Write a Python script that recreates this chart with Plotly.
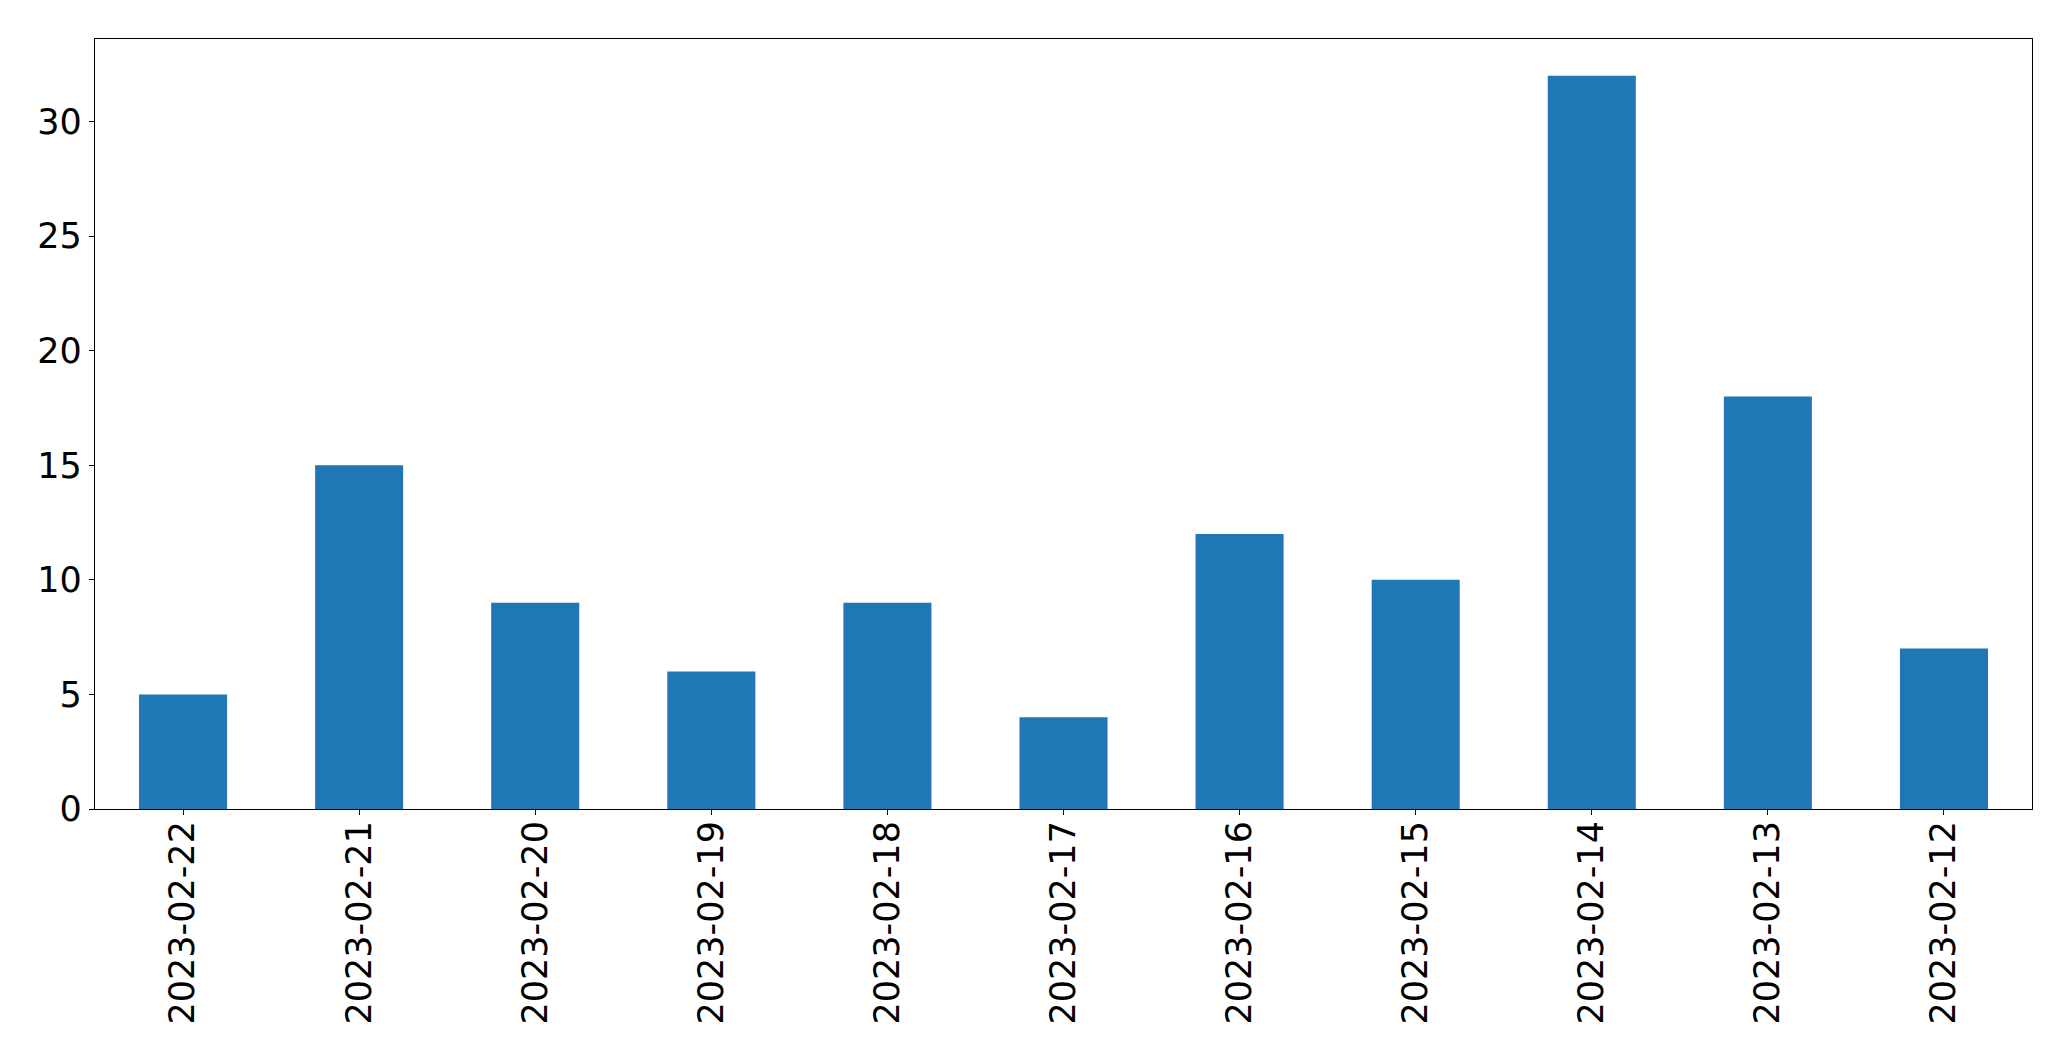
import plotly.graph_objects as go

dates = ["2023-02-22", "2023-02-21", "2023-02-20", "2023-02-19", "2023-02-18",
         "2023-02-17", "2023-02-16", "2023-02-15", "2023-02-14", "2023-02-13", "2023-02-12"]
counts = [5, 15, 9, 6, 9, 4, 12, 10, 32, 18, 7]

fig = go.Figure(go.Bar(x=dates, y=counts, width=0.5, marker_color="#1f77b4",
                       marker_line_width=0))

axis_common = dict(showline=True, linecolor="black", linewidth=1.2, mirror=True,
                   ticks="outside", ticklen=5, tickwidth=1.2, tickcolor="black",
                   showgrid=False, zeroline=False,
                   tickfont=dict(family="DejaVu Sans", size=35, color="black"))

fig.update_layout(
    width=2055, height=1045,
    margin=dict(l=87, r=31, t=31, b=244),
    plot_bgcolor="white", paper_bgcolor="white",
    showlegend=False,
    xaxis=dict(type="category", range=[-0.5, 10.5], tickangle=-90,
               ticklabelstandoff=-8, **axis_common),
    yaxis=dict(range=[0, 33.6], tickvals=[0, 5, 10, 15, 20, 25, 30], **axis_common),
)

fig.write_html("out.html")
